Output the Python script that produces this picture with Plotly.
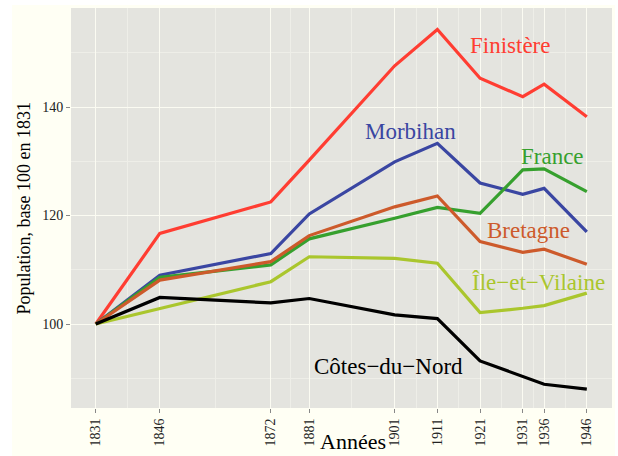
import plotly.graph_objects as go

years = [1831, 1846, 1872, 1881, 1901, 1911, 1921, 1931, 1936, 1946]
finistere = [100, 116.7, 122.5, 130.2, 147.6, 154.3, 145.3, 141.9, 144.2, 138.2]
morbihan = [100, 109.0, 113.0, 120.3, 129.9, 133.3, 126.0, 123.9, 125.0, 117.0]
bretagne = [100, 108.1, 111.5, 116.3, 121.6, 123.6, 115.2, 113.2, 113.8, 111.0]
france = [100, 108.6, 110.9, 115.7, 119.5, 121.5, 120.4, 128.4, 128.6, 124.4]
ille = [100, 102.9, 107.8, 112.4, 112.1, 111.2, 102.1, 102.9, 103.4, 105.7]
cotes = [100, 104.9, 103.9, 104.7, 101.7, 101.0, 93.2, 90.3, 88.9, 88.0]

series_names = ["Finistère", "Morbihan", "France", "Bretagne", "Île−et−Vilaine", "Côtes−du−Nord"]
series_values = [finistere, morbihan, france, bretagne, ille, cotes]
series_colors = ["#FF3D32", "#3A46A2", "#36A02E", "#CD5A2B", "#AAC62D", "#000000"]
label_x = [1928.2, 1904.7, 1938.0, 1932.4, 1934.7, 1899.5]
label_y = [151.4, 135.5, 130.8, 117.3, 107.6, 92.1]

y_ticks = [100, 120, 140]
y_minor = [90, 110, 130, 150]
x_minor = [(a + b) / 2 for a, b in zip(years[:-1], years[1:])]

FONT = "Liberation Serif, Times New Roman, serif"

fig = go.Figure()
for name, vals, col in zip(series_names, series_values, series_colors):
    fig.add_trace(go.Scatter(x=years, y=vals, mode="lines", name=name,
                             line=dict(color=col, width=3.2)))

for name, col, lx, ly in zip(series_names, series_colors, label_x, label_y):
    fig.add_annotation(x=lx, y=ly, text=name, showarrow=False,
                       font=dict(family=FONT, size=23, color=col),
                       xanchor="center", yanchor="middle")

# axis titles
fig.add_annotation(xref="paper", yref="paper", x=0.521, y=-0.119, text="Années",
                   showarrow=False, font=dict(family=FONT, size=22, color="#000000"),
                   xanchor="center", yanchor="bottom")
fig.add_annotation(xref="paper", yref="paper", x=-0.086, y=0.5,
                   text="Population, base 100 en 1831", textangle=-90,
                   showarrow=False, font=dict(family=FONT, size=18, color="#000000"),
                   xanchor="center", yanchor="middle")

# white border strips outside the ivory background
for x0, x1, y0, y1 in [(-0.3, -0.109, -0.3, 1.1), (-0.3, 1.1, 1.0075, 1.1), (1.0055, 1.1, -0.3, 1.1)]:
    fig.add_shape(type="rect", xref="paper", yref="paper", x0=x0, x1=x1, y0=y0, y1=y1,
                  fillcolor="white", line=dict(width=0), layer="above")

fig.update_layout(
    width=618, height=456,
    margin=dict(l=71, r=6, t=8, b=48),
    paper_bgcolor="#FFFFF4",
    plot_bgcolor="#E4E4DF",
    showlegend=False,
    font=dict(family=FONT, color="#222222"),
    xaxis=dict(range=[1825.2, 1951.9], tickmode="array", tickvals=years,
               ticktext=[str(y) for y in years], tickangle=-90,
               ticks="outside", ticklen=4, tickcolor="#888888", tickwidth=1,
               tickfont=dict(family=FONT, size=14, color="#222222"),
               showgrid=True, gridcolor="#FBFBF2", gridwidth=1.2, zeroline=False,
               showline=False,
               minor=dict(tickmode="array", tickvals=x_minor, showgrid=True,
                          gridcolor="#EEEEE8", gridwidth=0.8, ticks="")),
    yaxis=dict(range=[84.52, 158.25], tickmode="array", tickvals=y_ticks,
               ticks="outside", ticklen=4, tickcolor="#888888", tickwidth=1,
               tickfont=dict(family=FONT, size=14, color="#222222"),
               showgrid=True, gridcolor="#FBFBF2", gridwidth=1.2, zeroline=False,
               showline=False,
               minor=dict(tickmode="array", tickvals=y_minor, showgrid=True,
                          gridcolor="#EEEEE8", gridwidth=0.8, ticks="")),
)

fig.write_html("out.html", config={"displayModeBar": False},
               post_script="document.body.style.margin='0';")
